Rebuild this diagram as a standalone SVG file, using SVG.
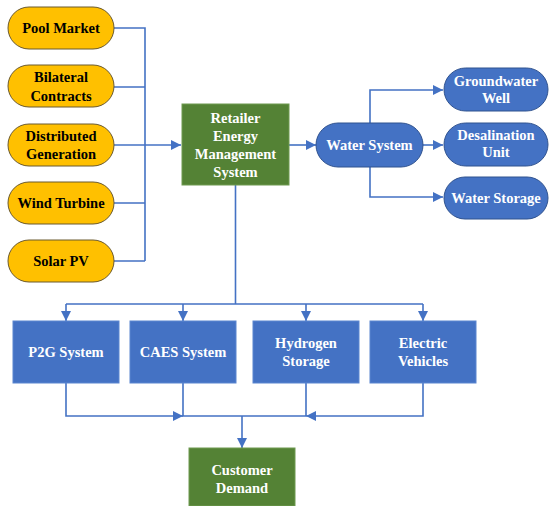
<svg xmlns="http://www.w3.org/2000/svg" width="549" height="506" viewBox="0 0 549 506">
<style>
.pill{fill:#FFC000;stroke:#6B5A2E;stroke-width:1}
.bpill{fill:#4472C4;stroke:#2F528F;stroke-width:1}
.box{fill:#4472C4;stroke:#5B86D0;stroke-width:1}
.gbox{fill:#548235;stroke:#6E9A50;stroke-width:1}
text{font-family:'Liberation Serif','Times New Roman','DejaVu Serif',serif;font-weight:700;font-size:14.5px;text-anchor:middle}
.dk{fill:#000}
.wt{fill:#fff}
.ln{fill:none;stroke:#4472C4;stroke-width:1.6}
</style>
<defs>
<marker id="ah" markerUnits="userSpaceOnUse" markerWidth="10" markerHeight="10" viewBox="0 0 10 10" refX="10" refY="5" orient="auto">
<path d="M0,0 L10,5 L0,10 Z" fill="#4472C4"/>
</marker>
</defs>
<g id="connectors">
<path class="ln" d="M114,28 H145 V261 M114,87 H145 M114,203 H145 M114,261 H145"/>
<path class="ln" d="M114,145 H181" marker-end="url(#ah)"/>
<path class="ln" d="M289,145 H316" marker-end="url(#ah)"/>
<path class="ln" d="M370,123 V90 H443" marker-end="url(#ah)"/>
<path class="ln" d="M423,145 H443" marker-end="url(#ah)"/>
<path class="ln" d="M370,167 V197 H443" marker-end="url(#ah)"/>
<path class="ln" d="M235.5,185 V304 M66,304 H423"/>
<path class="ln" d="M66,304 V321" marker-end="url(#ah)"/>
<path class="ln" d="M183,304 V321" marker-end="url(#ah)"/>
<path class="ln" d="M306,304 V321" marker-end="url(#ah)"/>
<path class="ln" d="M423,304 V321" marker-end="url(#ah)"/>
<path class="ln" d="M66,383 V416 H183" marker-end="url(#ah)"/>
<path class="ln" d="M423,383 V416 H306" marker-end="url(#ah)"/>
<path class="ln" d="M183,383 V416 H306 M306,383 V416"/>
<path class="ln" d="M242,416 V448" marker-end="url(#ah)"/>
</g>
<g id="pool-market"><rect class="pill" x="8" y="7" width="106" height="42" rx="21"/><text class="dk" x="61" y="33">Pool Market</text></g>
<g id="bilateral-contracts"><rect class="pill" x="8" y="65" width="106" height="42" rx="21"/><text class="dk" x="61" y="82">Bilateral</text><text class="dk" x="61" y="101">Contracts</text></g>
<g id="distributed-generation"><rect class="pill" x="8" y="124" width="106" height="42" rx="21"/><text class="dk" x="61" y="141">Distributed</text><text class="dk" x="61" y="159">Generation</text></g>
<g id="wind-turbine"><rect class="pill" x="8" y="182" width="106" height="42" rx="21"/><text class="dk" x="61" y="208">Wind Turbine</text></g>
<g id="solar-pv"><rect class="pill" x="8" y="240" width="106" height="42" rx="21"/><text class="dk" x="61" y="266">Solar PV</text></g>
<g id="retailer"><rect class="gbox" x="182" y="104" width="107" height="81"/><text class="wt" x="235.5" y="123">Retailer</text><text class="wt" x="235.5" y="141">Energy</text><text class="wt" x="235.5" y="159">Management</text><text class="wt" x="235.5" y="177">System</text></g>
<g id="water-system"><rect class="bpill" x="316" y="123" width="107" height="44" rx="22"/><text class="wt" x="369.5" y="150">Water System</text></g>
<g id="groundwater-well"><rect class="bpill" x="444" y="68" width="104" height="43" rx="21.5"/><text class="wt" x="496" y="86">Groundwater</text><text class="wt" x="496" y="103">Well</text></g>
<g id="desalination-unit"><rect class="bpill" x="444" y="123" width="104" height="43" rx="21.5"/><text class="wt" x="496" y="140">Desalination</text><text class="wt" x="496" y="157">Unit</text></g>
<g id="water-storage"><rect class="bpill" x="444" y="177" width="104" height="42" rx="21"/><text class="wt" x="496" y="203">Water Storage</text></g>
<g id="p2g"><rect class="box" x="13" y="321" width="106" height="62"/><text class="wt" x="66" y="357">P2G System</text></g>
<g id="caes"><rect class="box" x="130" y="321" width="106" height="62"/><text class="wt" x="183" y="357">CAES System</text></g>
<g id="hydrogen"><rect class="box" x="253" y="321" width="106" height="62"/><text class="wt" x="306" y="348">Hydrogen</text><text class="wt" x="306" y="366">Storage</text></g>
<g id="ev"><rect class="box" x="370" y="321" width="106" height="62"/><text class="wt" x="423" y="348">Electric</text><text class="wt" x="423" y="366">Vehicles</text></g>
<g id="customer-demand"><rect class="gbox" x="189" y="448" width="106" height="58"/><text class="wt" x="242" y="475">Customer</text><text class="wt" x="242" y="493">Demand</text></g>
</svg>
